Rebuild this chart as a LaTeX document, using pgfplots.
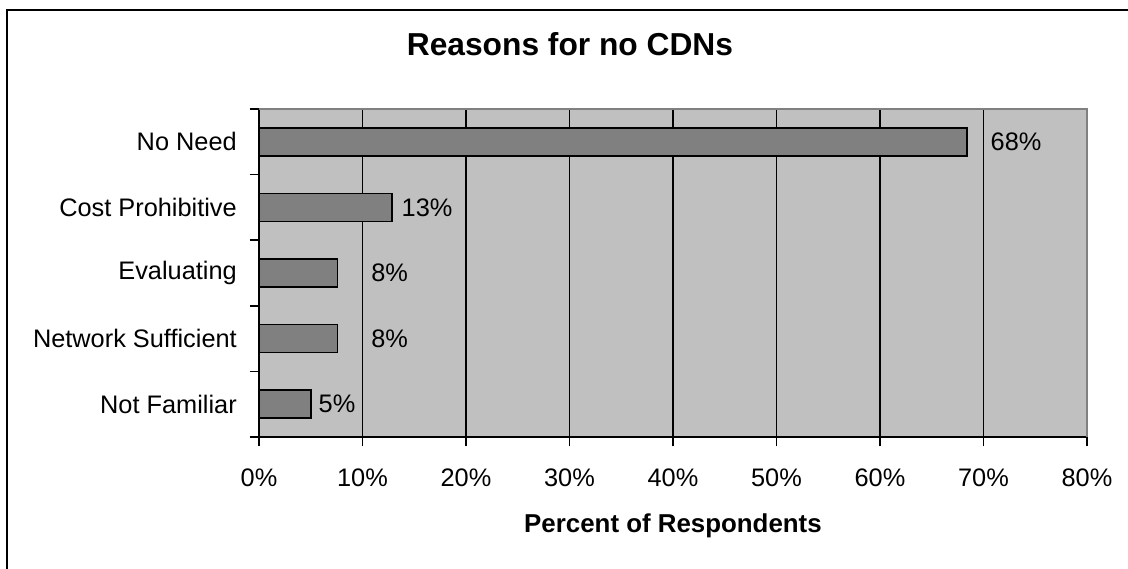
\documentclass[border=0pt]{standalone}
\usepackage{pgfplots}
\usepackage{pgfplotstable}
\pgfplotsset{compat=1.18}
\usepackage{fontspec}
\setmainfont{Liberation Sans}

\definecolor{plotgray}{HTML}{C0C0C0}
\definecolor{bargray}{HTML}{808080}

% pos: row from the bottom, value: percent, dx: gap before the value label (pt)
\pgfplotstableread{
pos value dx
0   5.02  5.25
1   7.6   24.75
2   7.6   24.75
3   12.85 6.75
4   68.4  17.25
}\reasons

\begin{document}
\begin{tikzpicture}[x=1pt,y=1pt]
\begin{axis}[
  at={(0,0)}, anchor=south west,
  scale only axis, width=621pt, height=246pt,
  xmin=0, xmax=80, ymin=-0.5, ymax=4.5,
  axis lines*=left,
  axis line style={line width=1.3pt, black},
  axis background/.style={fill=plotgray},
  /pgf/number format/assume math mode=true,
  xtick={0,10,...,80},
  xticklabel={\pgfmathprintnumber{\tick}\%},
  xmajorgrids,
  major grid style={black, line width=1.3pt},
  ytick={0,1,2,3,4},
  yticklabels={Not Familiar, Network Sufficient, Evaluating, Cost Prohibitive, No Need},
  minor ytick={-0.5,0.5,1.5,2.5,3.5,4.5},
  tick align=outside,
  major tick length=7pt, minor tick length=7pt,
  every major y tick/.append style={draw=none},
  tick style={black, line width=1.3pt},
  tick label style={font=\fontsize{19}{22}\selectfont},
  xticklabel style={anchor=center, inner sep=0pt, yshift=-23.75pt},
  yticklabel style={anchor=east, inner sep=0pt, xshift=-9.5pt},
  title={Reasons for no CDNs},
  title style={at={(rel axis cs:0.3756,1)}, anchor=center, yshift=42.4pt,
    font=\bfseries\fontsize{23.8}{28}\selectfont},
  xlabel={Percent of Respondents},
  every axis x label/.style={at={(rel axis cs:0.5,0)}, anchor=base,
    yshift=-71.25pt, font=\bfseries\fontsize{19.4}{23}\selectfont},
  clip=false,
]
\addplot[xbar, bar width=21pt, fill=bargray, draw=black, line width=1.1pt,
  point meta=x,
  visualization depends on={\thisrow{dx} \as \dx},
  nodes near coords={\pgfmathprintnumber[fixed,precision=0]{\pgfplotspointmeta}\%},
  every node near coord/.append style={anchor=west, inner sep=0pt,
    xshift=\dx pt, font=\fontsize{19}{22}\selectfont, black},
] table[x=value, y=pos] {\reasons};
% gray frame on the top and right of the plot area
\draw[bargray, line width=1.5pt] (rel axis cs:0,1) -- (rel axis cs:1,1) -- (rel axis cs:1,0);
\end{axis}
% outer chart frame, running off the right and bottom edges
\begin{scope}
  \clip (-194.25,-98.25) rectangle (651.75,327.75);
  \draw[line width=1.5pt] (-189,-110) -- (-189,320.25) -- (660,320.25);
\end{scope}
\pgfresetboundingbox
\useasboundingbox (-194.25,-98.25) rectangle (651.75,327.75);
\end{tikzpicture}
\end{document}
